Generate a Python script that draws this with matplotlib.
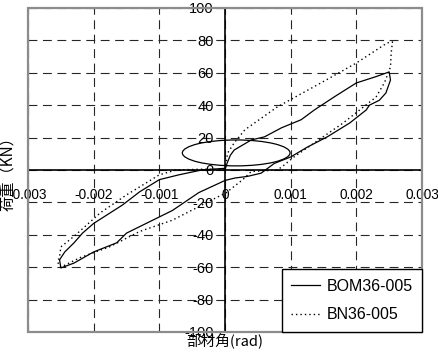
import matplotlib
matplotlib.use('Agg')
import matplotlib.pyplot as plt
from matplotlib.patches import Ellipse, Rectangle

# BOM36-005 (solid) loop
bom_x = [0, 0.00003, 0.00008, 0.00014, 0.0004, 0.0006, 0.00086, 0.00116, 0.00136,
         0.00166, 0.002, 0.0023, 0.0025, 0.00252, 0.00245, 0.00235, 0.0022, 0.00215,
         0.0019, 0.00156, 0.00125, 0.001, 0.00075, 0.00055, 0.00034, 0.00015, 0.0,
         -0.0004, -0.0008, -0.00115, -0.0015, -0.00165, -0.002, -0.0023, -0.0025,
         -0.00252, -0.00244, -0.0023, -0.00217, -0.002, -0.00156, -0.0013, -0.001,
         -0.0007, -0.00035, 0.0]
bom_y = [0, 4, 9, 12.3, 18.5, 20.4, 26, 31, 37,
         45, 53.7, 57.6, 60.5, 55.5, 47.5, 43, 40, 37,
         29, 20.5, 14, 8, 4, -2, -4, -5, -6.5,
         -14, -25, -32, -39, -45, -50.6, -57.5, -60.5,
         -55.5, -50.6, -45, -39, -33, -21.6, -13.5, -6,
         -3, 0, 1]

# BN36-005 (dotted) loop
bn_x = [0, 0.00004, 0.00014, 0.0003, 0.0008, 0.00146, 0.002, 0.00247, 0.00255,
        0.00253, 0.00252, 0.00243, 0.0023, 0.0018, 0.00136, 0.00105, 0.0009, 0.0008,
        0.0006, 0.0004, 0.00027, 0.00002, -0.0002, -0.0008, -0.0013, -0.00176,
        -0.0022, -0.0025, -0.00255, -0.00252, -0.0025, -0.0023, -0.0019, -0.0015,
        -0.0012, -0.001, -0.00074, -0.0003, 0.0]
bn_y = [0, 10.5, 16.7, 24.7, 39, 53.7, 66, 78.4, 79,
        72, 63.6, 54, 45, 29, 16.7, 8, 3, 0,
        -0.5, -1, -6, -14, -18.5, -31, -38, -47.5,
        -54, -60, -57, -53.7, -47.5, -41, -26.5, -15.4,
        -8, -3, 0, 0.5, 0]

x_ticks = [-0.003, -0.002, -0.001, 0, 0.001, 0.002, 0.003]
x_labels = ['-0.003', '-0.002', '-0.001', '0', '0.001', '0.002', '0.003']
y_ticks = [-100, -80, -60, -40, -20, 0, 20, 40, 60, 80, 100]

num_font = ['Liberation Sans', 'DejaVu Sans']
cjk_font = ['Noto Sans CJK JP', 'DejaVu Sans']
plt.rcParams['font.family'] = num_font

fig = plt.figure(figsize=(4.38, 3.52), dpi=100)
ax = fig.add_axes([0.064, 0.057, 0.8995, 0.9205])

ax.set_xlim(-0.003, 0.003)
ax.set_ylim(-100, 100)

# axes through the origin
for side in ['left', 'bottom']:
    ax.spines[side].set_position('zero')
    ax.spines[side].set_color('black')
    ax.spines[side].set_linewidth(1.2)
for side in ['top', 'right']:
    ax.spines[side].set_visible(False)
ax.add_patch(Rectangle((0, 0), 1, 1, transform=ax.transAxes, fill=False,
                       ec='0.55', lw=1.6, clip_on=False, zorder=3))

ax.set_xticks(x_ticks)
ax.set_xticklabels(x_labels)
ax.set_yticks(y_ticks)
ax.set_yticklabels([str(v) for v in y_ticks])
ax.tick_params(axis='x', direction='inout', length=0, pad=13, labelsize=9.8)
ax.tick_params(axis='y', direction='inout', length=0, pad=8, labelsize=10.5)

ax.grid(True, color='0.15', linestyle=(0, (8, 5)), linewidth=0.8)

ax.plot(bom_x, bom_y, color='black', lw=0.9, label='BOM36-005')
ax.plot(bn_x, bn_y, color='black', lw=1.0, ls=(0, (1, 2.2)), label='BN36-005')

ax.add_patch(Ellipse((0.00017, 10.5), 0.00164, 16, fill=False, ec='black', lw=0.9))

leg = ax.legend(loc='lower right', borderaxespad=0, fancybox=False,
                fontsize=11.5, handlelength=1.8, labelspacing=0.85,
                borderpad=0.6, handletextpad=0.4)
leg.get_frame().set_edgecolor('black')
leg.get_frame().set_linewidth(1.0)
leg.get_frame().set_alpha(1)

ax.set_xlabel('部材角(rad)', family=cjk_font, fontsize=10.5)
ax.xaxis.set_label_coords(0.5, -0.005)
ax.set_ylabel('荷重（KN）', family=cjk_font, fontsize=11)
ax.yaxis.set_label_coords(-0.03, 0.5)

fig.savefig('out.png', dpi=100)
